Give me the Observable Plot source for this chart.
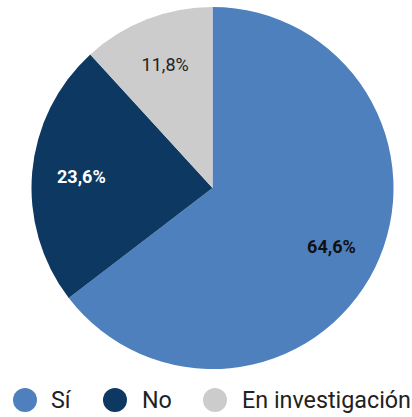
<!DOCTYPE html>
<html>
<head>
<meta charset="utf-8">
<script src="https://cdn.jsdelivr.net/npm/d3@7"></script>
<script src="https://cdn.jsdelivr.net/npm/@observablehq/plot@0.6"></script>
<style>
  html, body { margin: 0; padding: 0; background: #fff; }
  #chart { position: relative; width: 412px; height: 417px; font-family: Roboto, sans-serif; }
  #legend { position: absolute; left: 0; top: 378px; width: 412px; height: 39px; }
  .sw { position: absolute; width: 24px; height: 24px; border-radius: 50%; top: 10px; }
  .lb { position: absolute; top: 0; line-height: 44px; font-size: 23.3px; color: #222; white-space: nowrap; }
</style>
</head>
<body>
<div id="chart"></div>
<script>
const categories = ["Sí", "No", "En investigación"];
const values = [64.6, 23.6, 11.8];
const labels = ["64,6%", "23,6%", "11,8%"];
const colors = ["#4e80be", "#0c3862", "#cccccc"];
const labelColors = ["#111111", "#ffffff", "#222222"];
const labelWeights = ["bold", "bold", "normal"];

const W = 412, H = 378, CX = 212.5, CY = 188, R = 181;
const data = categories.map((c, i) => ({category: c, value: values[i], label: labels[i], color: colors[i], tc: labelColors[i], fw: labelWeights[i]}));
const arcs = d3.pie().value(d => d.value).sort(null)(data);
const LR = 0.73;
const labelData = arcs.map(a => {
  const m = (a.startAngle + a.endAngle) / 2;
  return {...a.data, lx: Math.sin(m) * LR, ly: Math.cos(m) * LR};
});

const pieMark = (index, scales, values, dims) => {
  const cx = scales.x(0), cy = scales.y(0), r = scales.x(1) - scales.x(0);
  const g = d3.create("svg:g").attr("transform", `translate(${cx},${cy})`);
  const arc = d3.arc().innerRadius(0).outerRadius(r);
  g.selectAll("path").data(arcs).join("path")
    .attr("d", arc)
    .attr("fill", d => d.data.color);
  return g.node();
};

const plot = Plot.plot({
  width: W, height: H,
  margin: 0,
  x: {domain: [-CX / R, (W - CX) / R], axis: null},
  y: {domain: [-(H - CY) / R, CY / R], axis: null},
  style: {fontFamily: "Roboto, sans-serif", background: "#fff"},
  marks: [
    pieMark,
    ...labelData.map(d => Plot.text([d], {x: "lx", y: "ly", text: "label", fill: d.tc, fontWeight: d.fw, fontSize: 18}))
  ]
});
const chart = document.getElementById("chart");
chart.appendChild(plot);

const legend = document.createElement("div");
legend.id = "legend";
const swX = [13, 103, 203], lbX = [51, 142, 242];
categories.forEach((c, i) => {
  const s = document.createElement("div");
  s.className = "sw"; s.style.left = swX[i] + "px"; s.style.background = colors[i];
  const l = document.createElement("div");
  l.className = "lb"; l.style.left = lbX[i] + "px"; l.textContent = c;
  legend.appendChild(s); legend.appendChild(l);
});
chart.appendChild(legend);
</script>
</body>
</html>
